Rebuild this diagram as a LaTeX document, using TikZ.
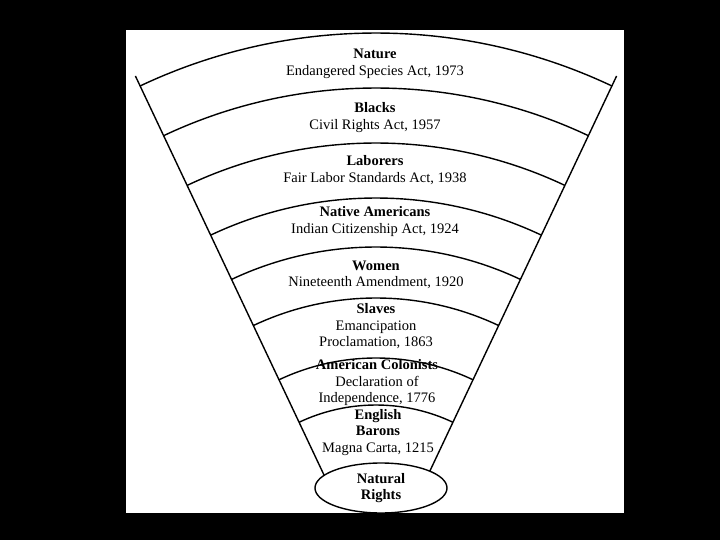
\documentclass[tikz,border=0pt]{standalone}
\usepackage{fontspec}
\setmainfont{Liberation Serif}
\usetikzlibrary{shapes.geometric}

\begin{document}
\begin{tikzpicture}[x=1pt,y=1pt]
\useasboundingbox (0,0) rectangle (720,-540);
\fill[black] (0,0) rectangle (720,-540);
\fill[white] (126,-30) rectangle (624,-513);
\coordinate (O) at (376,-585);
\path (O) ++(115.3:563) coordinate (L1) (O) ++(115.3:110) coordinate (L0);
\path (O) ++(64.7:563) coordinate (R1) (O) ++(64.7:110) coordinate (R0);
\begin{scope}
\clip (126,-30) rectangle (624,-513);
\begin{scope}[every path/.style={line width=1.4pt}]
    \foreach \r in {552,497,442,387,338,287,227,180}
        \draw (O) ++(115.3:\r) arc[start angle=115.3,end angle=64.7,radius=\r];
    \draw (L1) -- (L0);
    \draw (R1) -- (R0);
\end{scope}
\node[ellipse,draw,line width=1.4pt,fill=white,minimum width=132pt,minimum height=50pt,
      inner sep=0pt,align=center,font=\fontsize{14.5}{16.5}\selectfont\bfseries]
      (natural) at (381,-488) {\raisebox{4pt}{\begin{tabular}{@{}c@{}}Natural\\Rights\end{tabular}}};
\end{scope}
\begin{scope}[every node/.style={align=center,inner sep=0pt,font=\fontsize{14.5}{16.5}\selectfont}]
    \node (nature) at (375,-64) {\textbf{Nature}\\Endangered Species Act, 1973};
    \node (blacks) at (375,-117.5) {\textbf{Blacks}\\Civil Rights Act, 1957};
    \node (laborers) at (375,-170) {\textbf{Laborers}\\Fair Labor Standards Act, 1938};
    \node (natives) at (375,-221.5) {\textbf{Native Americans}\\Indian Citizenship Act, 1924};
    \node (women) at (376,-275) {\textbf{Women}\\Nineteenth Amendment, 1920};
    \node (slaves) at (376,-326.5) {\textbf{Slaves}\\Emancipation\\Proclamation, 1863};
    \node (colonists) at (377,-383) {\textbf{American Colonists}\\Declaration of\\Independence, 1776};
    \node (barons) at (378,-432.5) {\textbf{English}\\\textbf{Barons}\\Magna Carta, 1215};
\end{scope}
\end{tikzpicture}
\end{document}
